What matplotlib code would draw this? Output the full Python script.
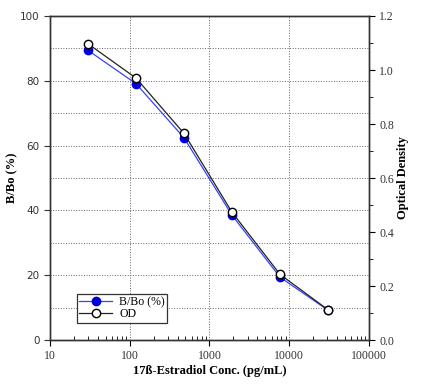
import matplotlib
matplotlib.use('Agg')
import matplotlib.pyplot as plt
from matplotlib.ticker import MultipleLocator, LogLocator, NullFormatter, FixedLocator
import numpy as np

# Data
conc = [30, 120, 480, 1920, 7680, 30720]
bbo = [89.4, 79.1, 62.4, 38.5, 19.4, 9.2]
od = [1.097, 0.970, 0.765, 0.473, 0.243, 0.112]

serif = 'Liberation Serif'

fig = plt.figure(figsize=(4.31, 3.90), dpi=100)
ax = fig.add_axes([0.116, 0.128, 0.740, 0.831])
ax2 = ax.twinx()

l1, = ax.plot(conc, bbo, color='#3344ff', lw=0.9, marker='o', ms=6,
              mfc='#0000dd', mec='#0000dd', zorder=3)
l2, = ax2.plot(conc, od, color='#222222', lw=0.9, marker='o', ms=6,
               mfc='white', mec='black', mew=1.0, zorder=4)

ax.set_xscale('log')
ax.set_xlim(10, 100000)
ax.set_ylim(0, 100)
ax2.set_ylim(0, 1.2)

ax.yaxis.set_major_locator(MultipleLocator(20))
ax.yaxis.set_minor_locator(MultipleLocator(10))
ax2.yaxis.set_major_locator(MultipleLocator(0.2))
ax2.yaxis.set_minor_locator(MultipleLocator(0.1))
ax.xaxis.set_major_locator(FixedLocator([10, 100, 1000, 10000, 100000]))
ax.xaxis.set_minor_locator(LogLocator(base=10, subs=np.arange(2, 10)))
ax.xaxis.set_minor_formatter(NullFormatter())
ax.set_xticklabels(['10', '100', '1000', '10000', '100000'], fontfamily=serif, fontsize=8.5, color='#333333')
ax2.set_yticks([0.0, 0.2, 0.4, 0.6, 0.8, 1.0, 1.2])
ax2.set_yticklabels(['0.0', '0.2', '0.4', '0.6', '0.8', '1.0', '1.2'], fontfamily=serif, fontsize=8.5, color='#333333')
ax.tick_params(axis='y', labelsize=7.5, colors='#333333', length=4)
ax.tick_params(axis='y', which='minor', length=0)
ax.tick_params(axis='x', which='major', length=4, direction='out')
ax.tick_params(axis='x', which='minor', length=3, direction='in')
ax2.tick_params(axis='y', which='major', length=4)
ax2.tick_params(axis='y', which='minor', length=3)

# Grid
ax.grid(True, which='major', axis='x', color='#666666', ls=':', lw=0.7)
ax.grid(True, which='both', axis='y', color='#666666', ls=':', lw=0.7)
ax.set_axisbelow(True)

for a in (ax, ax2):
    for s in a.spines.values():
        s.set_color('#333333')
        s.set_linewidth(1.0)

ax.set_xlabel('17ß-Estradiol Conc. (pg/mL)', fontfamily=serif, fontweight='bold', fontsize=9, labelpad=2)
ax.set_ylabel('B/Bo (%)', fontfamily=serif, fontweight='bold', fontsize=9)
ax.yaxis.set_label_coords(-0.10, 0.5)
ax2.set_ylabel('Optical Density', fontfamily=serif, fontweight='bold', fontsize=9, labelpad=2)

leg = ax2.legend([l1, l2], ['B/Bo (%)', 'OD'], loc='lower left', bbox_to_anchor=(0.065, 0.035),
                 fancybox=False, framealpha=1, edgecolor='#333333',
                 prop={'family': serif, 'size': 8.5}, handlelength=2.8, borderpad=0.2,
                 labelspacing=0.05, handletextpad=0.6)
leg.get_frame().set_linewidth(0.9)

fig.savefig('out.png', dpi=100)
